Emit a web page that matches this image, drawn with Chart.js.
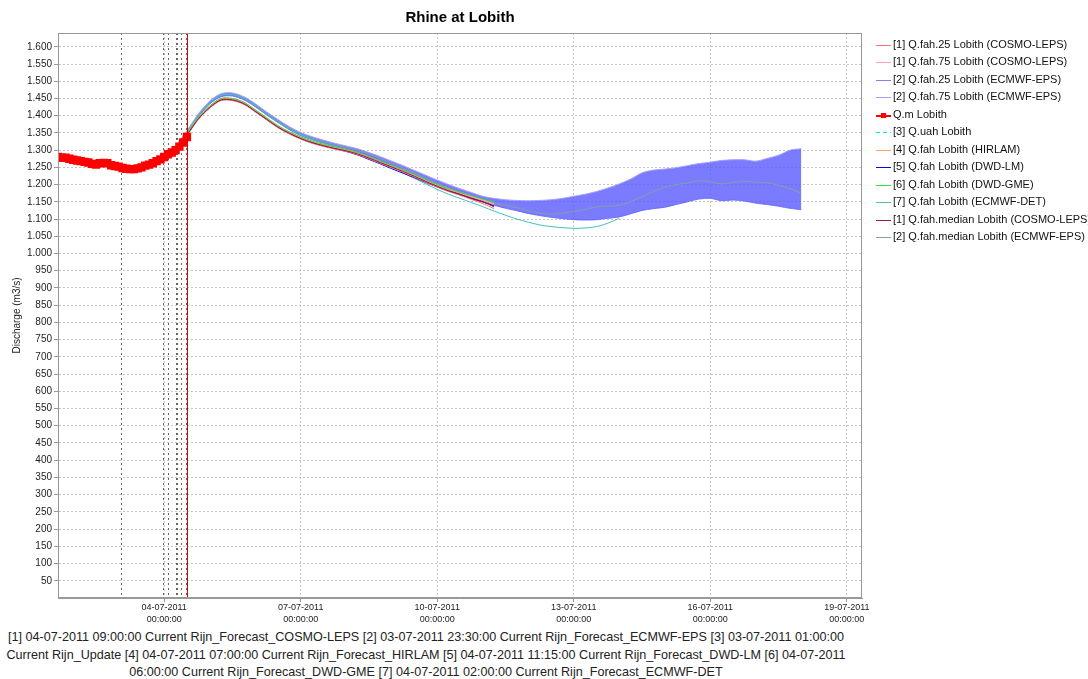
<!DOCTYPE html>
<html>
<head>
<meta charset="utf-8">
<title>Rhine at Lobith</title>
<script src="https://cdn.jsdelivr.net/npm/chart.js@4.4.0/dist/chart.umd.min.js"></script>
<style>
  body { margin: 0; background: #fff; font-family: "Liberation Sans", Arial, sans-serif; }
  #wrap { position: relative; width: 1088px; height: 679px; overflow: hidden; }
  #myChart { position: absolute; left: 0; top: 0; }
  #legend { position: absolute; left: 876px; top: 36px; font-size: 11px; color: #111; }
  .row { position: absolute; left: 0; height: 17px; line-height: 17px; white-space: nowrap; padding-left: 17px; }
  .swatch { position: absolute; left: 0; top: 9px; width: 15px; height: 1px; }
  .marker { position: absolute; left: 5px; top: -2px; width: 5px; height: 5px; }
  #note { position: absolute; left: 0; top: 629px; width: 852px; text-align: center; font-size: 12.6px; line-height: 17.5px; color: #222; white-space: nowrap; }
</style>
</head>
<body>
<div id="wrap">
  <canvas id="myChart" width="1088" height="628"></canvas>
  <div id="legend"></div>
  <div id="note">[1] 04-07-2011 09:00:00 Current Rijn_Forecast_COSMO-LEPS [2] 03-07-2011 23:30:00 Current Rijn_Forecast_ECMWF-EPS [3] 03-07-2011 01:00:00<br>Current Rijn_Update [4] 04-07-2011 07:00:00 Current Rijn_Forecast_HIRLAM [5] 04-07-2011 11:15:00 Current Rijn_Forecast_DWD-LM [6] 04-07-2011<br>06:00:00 Current Rijn_Forecast_DWD-GME [7] 04-07-2011 02:00:00 Current Rijn_Forecast_ECMWF-DET</div>
</div>
<script>
// time is in hours since 01-07-2011 00:00
const obsHours = [16, 18, 20, 22, 24, 26, 28, 30, 32, 34, 36, 38, 40, 42, 44, 46, 48, 50, 52, 54, 56, 58, 60, 62, 64, 66, 68, 70, 72, 74, 76, 78, 80, 82, 84];
const obsValues = [1280, 1278, 1278, 1275, 1272, 1270, 1268, 1266, 1264, 1260, 1258, 1262, 1263, 1262, 1256, 1254, 1252, 1248, 1246, 1245, 1245, 1247, 1250, 1255, 1258, 1262, 1268, 1273, 1280, 1288, 1293, 1300, 1310, 1322, 1338];

const uahHours = [16, 24, 32, 40, 48];
const uahValues = [1279, 1272, 1263, 1261, 1251];

// forecast time steps (6 hourly)
const fcHours = [72, 78, 84, 90, 96, 102, 108, 114, 120, 126, 132, 138, 144, 150, 156, 162, 168, 174, 180, 186,
  192, 198, 204, 210, 216, 222, 228, 234, 240, 246, 252, 258, 264, 270, 276, 282, 288, 294, 300, 306,
  312, 318, 324, 330, 336, 342, 348, 354, 360, 366, 372, 378, 384, 390, 396, 402, 408];

// ECMWF-EPS, from 72h
const ecmwf25 = [1280, 1307, 1348, 1397, 1434, 1455, 1457, 1446, 1426, 1402, 1380, 1359, 1342, 1330, 1320, 1311, 1303, 1294, 1283, 1270,
  1256, 1241, 1226, 1211, 1196, 1182, 1170, 1159, 1149, 1140, 1131, 1124, 1116, 1110, 1105, 1101, 1098, 1097, 1098, 1102,
  1106, 1115, 1125, 1130, 1134, 1142, 1150, 1158, 1160, 1153, 1155, 1152, 1146, 1142, 1137, 1131, 1127];
const ecmwf75 = [1284, 1313, 1356, 1405, 1442, 1464, 1466, 1455, 1435, 1411, 1389, 1368, 1351, 1339, 1329, 1320, 1312, 1304, 1293, 1281,
  1268, 1255, 1241, 1227, 1213, 1200, 1188, 1177, 1166, 1160, 1156, 1154, 1153, 1154, 1156, 1160, 1166, 1172, 1180, 1190,
  1202, 1216, 1234, 1242, 1245, 1249, 1255, 1261, 1265, 1270, 1272, 1272, 1268, 1276, 1285, 1300, 1304];
const ecmwfMedian = [1282, 1310, 1352, 1401, 1438, 1460, 1462, 1451, 1431, 1407, 1385, 1364, 1347, 1335, 1325, 1316, 1308, 1300, 1289, 1276,
  1262, 1248, 1233, 1218, 1203, 1190, 1178, 1166, 1154, 1146, 1140, 1133, 1124, 1117, 1114, 1117, 1122, 1128, 1135, 1137,
  1140, 1150, 1165, 1180, 1193, 1200, 1205, 1211, 1208, 1202, 1206, 1210, 1207, 1205, 1198, 1188, 1175];

// from 78h
const ecmwfDet = [1310, 1352, 1400, 1437, 1459, 1461, 1450, 1429, 1404, 1381, 1361, 1344, 1331, 1320, 1311, 1302, 1292, 1280, 1265, 1250,
  1234, 1218, 1202, 1186, 1172, 1160, 1148, 1136, 1123, 1111, 1100, 1091, 1083, 1078, 1075, 1073, 1074, 1078, 1088, 1102];
const cosmo25 = [null, 1342, 1389, 1422, 1444, 1444, 1433, 1411, 1388, 1365, 1347, 1332, 1320, 1311, 1303, 1296, 1287, 1275, 1262, 1249, 1236, 1222, 1207, 1193, 1180, 1169, 1157, 1145, 1130];
const cosmo75 = [null, 1348, 1395, 1428, 1450, 1450, 1439, 1417, 1394, 1371, 1353, 1338, 1326, 1317, 1309, 1302, 1293, 1281, 1268, 1255, 1242, 1228, 1213, 1199, 1187, 1177, 1166, 1156, 1144];
const cosmoMedian = [null, 1344, 1391, 1424, 1446, 1446, 1435, 1413, 1390, 1367, 1349, 1334, 1322, 1313, 1305, 1298, 1289, 1277, 1264, 1251, 1238, 1224, 1209, 1195, 1182, 1172, 1160, 1150, 1135];
const hirlam = [null, 1346, 1393, 1426, 1448, 1448, 1437, 1415, 1392, 1369, 1351, 1336, 1324, 1315, 1307, 1300, 1291, 1279, 1266, 1253, 1240, 1226, 1211, 1197, 1185, 1175, 1164, 1154, 1142];
const dwdLm = [null, 1343, 1390, 1423, 1445, 1445, 1434, 1412, 1389, 1366, 1348, 1333, 1321, 1312, 1304, 1296, 1286, 1273, 1260, 1246, 1233, 1220, 1206, 1193, 1181, 1171, 1160, 1150, 1138];
const dwdGme = [1304, 1347, 1394, 1428, 1450, 1450, 1439, 1417, 1394, 1371, 1353, 1338, 1326, 1317, 1309, 1302, 1293, 1281, 1268, 1255, 1243, 1229, 1214, 1200, 1188, 1178, 1168, 1158, 1150];

const forecastTimes = [49, 71.5, 74, 78, 79, 81, 83.25];
const nowTime = 84;

const xTickHours = [72, 144, 216, 288, 360, 432];
const xTickLabels = [
  ["04-07-2011", "00:00:00"], ["07-07-2011", "00:00:00"], ["10-07-2011", "00:00:00"],
  ["13-07-2011", "00:00:00"], ["16-07-2011", "00:00:00"], ["19-07-2011", "00:00:00"]
];

function pts(hours, values, from) {
  return values.map((v, i) => ({ x: hours[from + i], y: v }));
}

function line(label, color, data, order, extra) {
  return Object.assign({
    label: label,
    data: data,
    borderColor: color,
    backgroundColor: color,
    borderWidth: 1,
    pointRadius: 0,
    tension: 0.3,
    fill: false,
    order: order
  }, extra || {});
}

const datasets = [
  line("[1] Q.fah.25 Lobith (COSMO-LEPS)", "#ff7070", pts(fcHours, cosmo25, 1), 6),
  line("[1] Q.fah.75 Lobith (COSMO-LEPS)", "#ffa8a8", pts(fcHours, cosmo75, 1), 7),
  line("[2] Q.fah.25 Lobith (ECMWF-EPS)", "#8080ff", pts(fcHours, ecmwf25, 0), 21),
  line("[2] Q.fah.75 Lobith (ECMWF-EPS)", "#a0a0ff", pts(fcHours, ecmwf75, 0), 20,
    { fill: 2, backgroundColor: "rgba(90, 90, 255, 0.8)" }),
  line("Q.m Lobith", "#ff0000", pts(obsHours, obsValues, 0), 0,
    { pointRadius: 4.5, pointStyle: "rect", borderWidth: 2, tension: 0 }),
  line("[3] Q.uah Lobith", "#00e8e8", pts(uahHours, uahValues, 0), 3, { borderDash: [4, 3] }),
  line("[4] Q.fah Lobith (HIRLAM)", "#ffa060", pts(fcHours, hirlam, 1), 8),
  line("[5] Q.fah Lobith (DWD-LM)", "#0000ff", pts(fcHours, dwdLm, 1), 9),
  line("[6] Q.fah Lobith (DWD-GME)", "#33dd33", pts(fcHours, dwdGme, 1), 5),
  line("[7] Q.fah Lobith (ECMWF-DET)", "#40c0c0", pts(fcHours, ecmwfDet, 1), 12),
  line("[1] Q.fah.median Lobith (COSMO-LEPS)", "#a01830", pts(fcHours, cosmoMedian, 1), 4),
  line("[2] Q.fah.median Lobith (ECMWF-EPS)", "#7fa0a8", pts(fcHours, ecmwfMedian, 0), 13)
];

function vline(chart, t) {
  const { ctx, chartArea: a, scales: { x } } = chart;
  const px = Math.round(x.getPixelForValue(t)) + 0.5;
  ctx.beginPath();
  ctx.moveTo(px, a.top);
  ctx.lineTo(px, a.bottom);
  ctx.stroke();
}

// forecast time markers, "now" line and plot frame
const markersPlugin = {
  id: "markers",
  beforeDatasetsDraw(chart) {
    const ctx = chart.ctx;
    ctx.save();
    ctx.lineWidth = 1;
    ctx.strokeStyle = "#666";
    ctx.setLineDash([2, 3]);
    forecastTimes.forEach(t => vline(chart, t));
    ctx.restore();
  },
  afterDatasetsDraw(chart) {
    const ctx = chart.ctx;
    ctx.save();
    ctx.lineWidth = 1;
    ctx.strokeStyle = "#e00000";
    vline(chart, nowTime);
    ctx.restore();
  },
  afterDraw(chart) {
    const { ctx, chartArea: a } = chart;
    ctx.save();
    ctx.strokeStyle = "#999";
    ctx.lineWidth = 1;
    ctx.strokeRect(Math.round(a.left) + 0.5, Math.round(a.top) + 0.5,
      Math.round(a.right - a.left) - 1, Math.round(a.bottom - a.top) - 1);
    ctx.restore();
  }
};

Chart.defaults.font.family = '"Liberation Sans", Arial, sans-serif';
Chart.defaults.color = "#222";

const ctx = document.getElementById("myChart").getContext("2d");
const myChart = new Chart(ctx, {
  type: "line",
  data: { datasets: datasets },
  options: {
    responsive: false,
    animation: false,
    layout: { padding: { left: 0, right: 226, top: 0, bottom: 0 } },
    plugins: {
      legend: { display: false },
      tooltip: { enabled: false },
      title: {
        display: true,
        text: "Rhine at Lobith",
        fullSize: false,
        color: "#000",
        font: { size: 15, weight: "bold" },
        padding: { top: 9, bottom: 6 }
      }
    },
    scales: {
      x: {
        type: "linear",
        min: 16,
        max: 440,
        afterBuildTicks: scale => { scale.ticks = xTickHours.map(v => ({ value: v })); },
        afterFit: scale => { scale.height = 30; },
        grid: { color: "#c4c4c4", tickLength: 4, tickColor: "#999", tickBorderDash: [] },
        border: { display: true, color: "#999", dash: [2, 2] },
        ticks: {
          autoSkip: false,
          maxRotation: 0,
          padding: 0,
          font: { size: 9, lineHeight: 1.3 },
          callback: (value, index) => xTickLabels[index]
        }
      },
      y: {
        min: 0,
        max: 1640,
        afterBuildTicks: scale => {
          scale.ticks = scale.ticks.filter(t => t.value > 0 && t.value <= 1600 && t.value % 50 === 0);
        },
        afterFit: scale => { scale.width = 58; },
        grid: { color: "#c4c4c4", tickLength: 4, tickColor: "#999", tickBorderDash: [] },
        border: { display: true, color: "#999", dash: [2, 2] },
        title: {
          display: true,
          text: "Discharge (m3/s)",
          font: { size: 10 },
          padding: { top: 11, bottom: 0 }
        },
        ticks: {
          stepSize: 50,
          padding: 2,
          font: { size: 10 },
          callback: v => v >= 1000 ? Math.floor(v / 1000) + "." + String(v % 1000).padStart(3, "0") : String(v)
        }
      }
    }
  },
  plugins: [markersPlugin]
});

// legend on the right, same order as the datasets
const legendEl = document.getElementById("legend");
myChart.data.datasets.forEach((ds, i) => {
  const row = document.createElement("div");
  row.className = "row";
  row.style.top = Math.round(i * 17.45) + "px";
  const sw = document.createElement("span");
  sw.className = "swatch";
  sw.style.background = ds.borderColor;
  if (ds.borderDash) {
    sw.style.background = "repeating-linear-gradient(90deg, " + ds.borderColor + " 0 4px, transparent 4px 7px)";
  }
  if (ds.pointStyle === "rect") {
    sw.style.height = "2px";
    const mk = document.createElement("span");
    mk.className = "marker";
    mk.style.background = ds.borderColor;
    sw.appendChild(mk);
  }
  row.appendChild(sw);
  row.appendChild(document.createTextNode(ds.label));
  legendEl.appendChild(row);
});
</script>
</body>
</html>
